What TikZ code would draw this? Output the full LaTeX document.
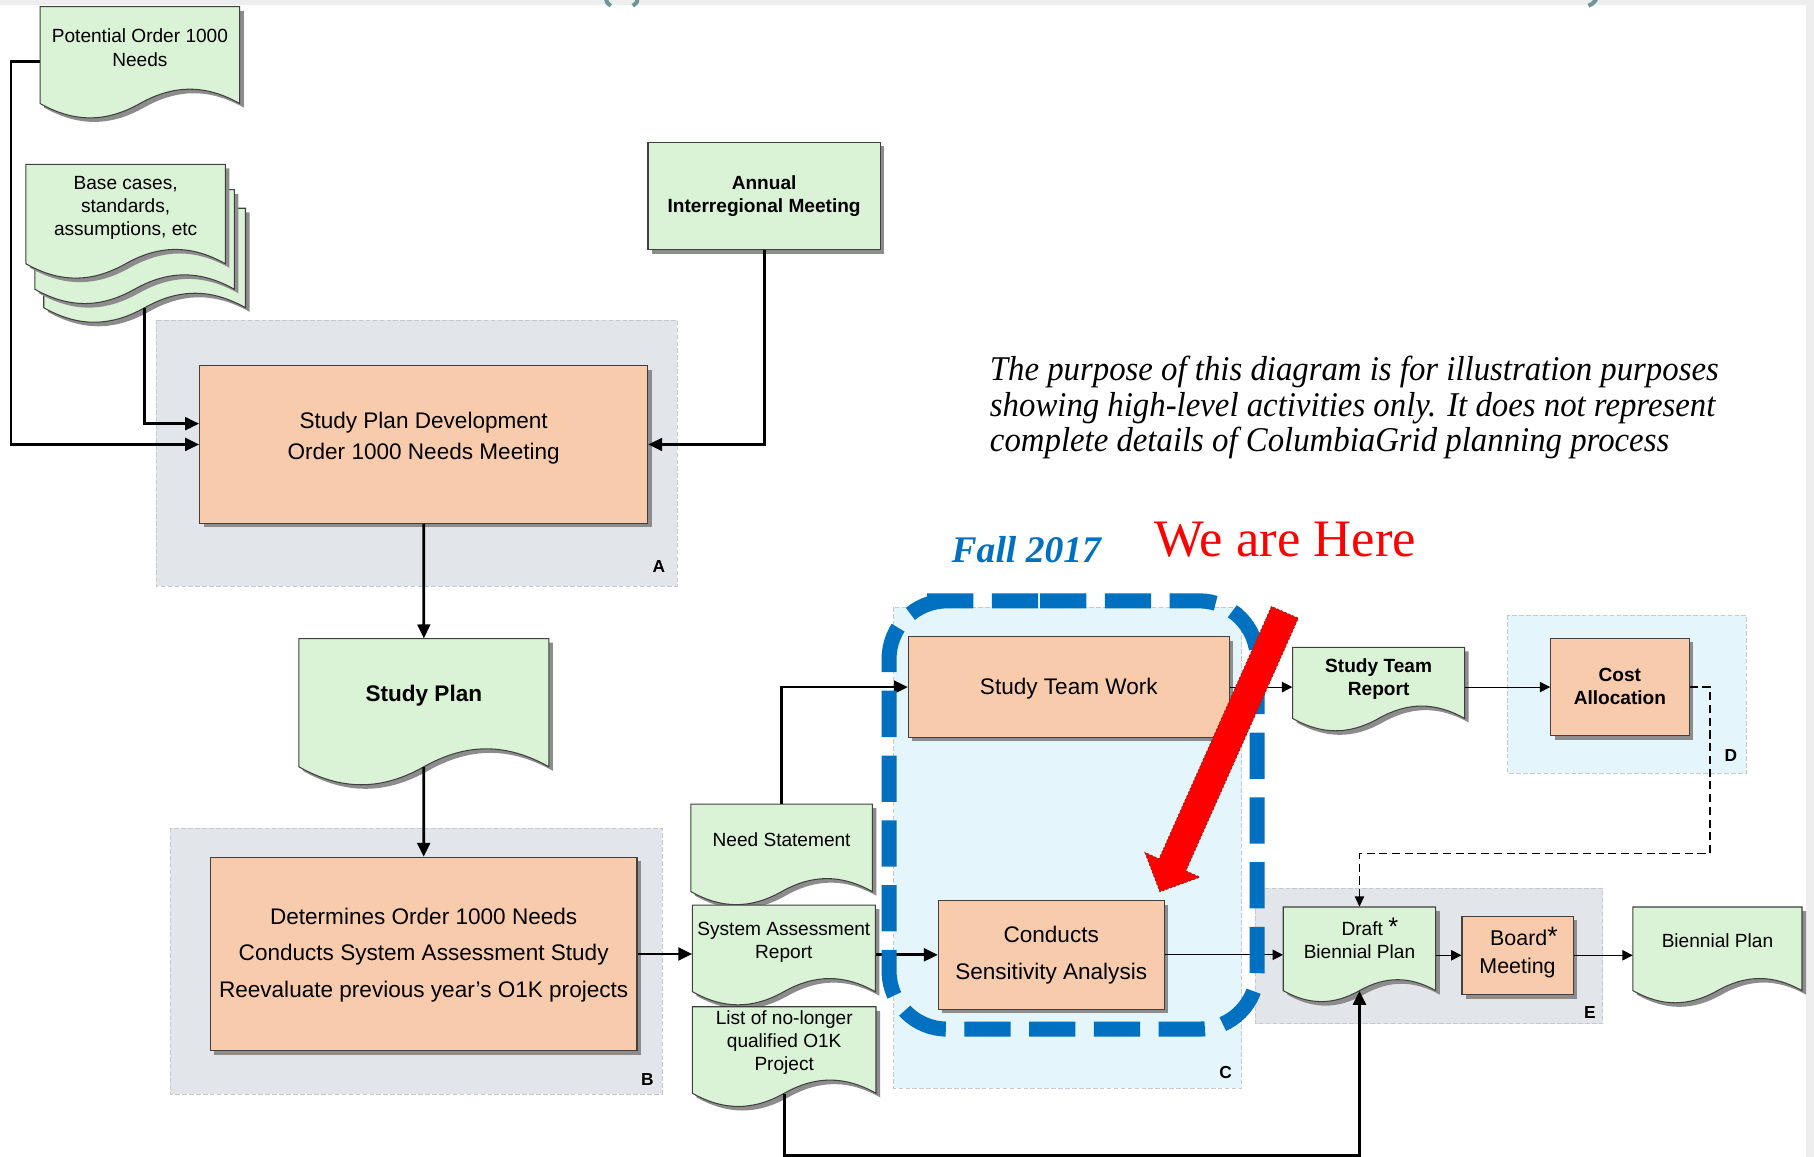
\documentclass[tikz,border=0pt]{standalone}
\usepackage{fontspec}
\setmainfont{Liberation Sans}
\newfontfamily\noteserif{Liberation Serif}[FakeStretch=0.945]
\newfontfamily\headserif{Liberation Serif}
\usetikzlibrary{arrows.meta,calc}

\definecolor{docfill}{RGB}{218,242,213}
\definecolor{procfill}{RGB}{248,203,173}
\definecolor{greyzone}{RGB}{226,229,233}
\definecolor{bluezone}{RGB}{228,246,251}
\definecolor{zoneedge}{RGB}{196,202,208}
\definecolor{edge}{RGB}{64,64,64}
\definecolor{shade}{RGB}{140,140,140}
\definecolor{hiblue}{RGB}{0,112,192}
\definecolor{arrowedge}{RGB}{150,40,30}
\definecolor{band}{RGB}{238,238,238}
\definecolor{titleteal}{RGB}{110,150,150}

% document symbol with a wavy lower edge: name, left, top, right, side bottom
\newcommand\docshape[5]{%
  \pgfmathsetmacro\docW{#4-#2}%
  \pgfmathsetmacro\docA{0.072*\docW*1.33}%
  \path[docbody] (#2,#3) -- (#4,#3) -- (#4,#5)
    .. controls ({#4-0.17*\docW},{#5-\docA}) and ({#4-0.33*\docW},{#5-\docA}) .. ({#2+0.5*\docW},#5)
    .. controls ({#2+0.33*\docW},{#5+\docA}) and ({#2+0.17*\docW},{#5+\docA}) .. (#2,#5) -- cycle;
  \node[docframe, minimum width=\docW, minimum height={#5-#3}] (#1) at ({(#2+#4)/2},{(#3+#5)/2}) {};
}

\begin{document}
\begin{tikzpicture}[x=1pt,y=-1pt,
  shadowed/.style={preaction={fill=shade, draw=none, transform canvas={shift={(3.5pt,-3.5pt)}}}},
  procbox/.style={rectangle, draw=edge, line width=0.9pt, fill=procfill, inner sep=0, shadowed},
  docbody/.style={draw=edge, line width=0.9pt, fill=docfill, shadowed},
  docframe/.style={rectangle, inner sep=0, draw=none},
  zone/.style={draw=zoneedge, line width=0.8pt, dash pattern=on 4pt off 2pt},
  zonelabel/.style={inner sep=0, font=\bfseries\fontsize{15}{18}\selectfont},
  lbl/.style={inner sep=0, align=center, anchor=north, execute at begin node=\strut},
  smalltxt/.style={lbl, font=\fontsize{16.5}{20}\selectfont},
  smallbold/.style={lbl, font=\bfseries\fontsize{16.5}{20}\selectfont},
  bigtxt/.style={lbl, font=\fontsize{19.5}{27}\selectfont},
  thickflow/.style={line width=2.4pt, -{Triangle[length=12pt,width=11pt]}},
  thinflow/.style={line width=1pt, -{Triangle[length=9pt,width=9pt]}},
  dashflow/.style={line width=1.2pt, dash pattern=on 7pt off 4pt, -{Triangle[length=9pt,width=8pt]}}]

\fill[white] (0,0) rectangle (1568,1000);
\useasboundingbox (0,0) rectangle (1568,1000);

% page frame bands and the cut title strokes
\fill[band] (0,0) rectangle (1568,4);
\fill[band] (1561,0) rectangle (1568,1000);
\draw[titleteal, line width=3.5pt] (524,-4) .. controls (524,2) .. (528,5);
\draw[titleteal, line width=3.5pt] (551,-4) .. controls (551,2) .. (547,5);
\draw[titleteal, line width=3.5pt] (1381,-8) .. controls (1381,0) and (1378,3) .. (1373,5);

% zones
\path[zone, fill=greyzone] (134.9,276.6) rectangle (585.5,506.6);
\path[zone, fill=greyzone] (147.2,715.8) rectangle (572.2,945.6);
\path[zone, fill=bluezone] (772.5,525) rectangle (1073.2,940.8);
\path[zone, fill=bluezone] (1303.3,531.6) rectangle (1509.4,668.5);
\path[zone, fill=greyzone] (1085,768) rectangle (1385.2,884.9);
\node[zonelabel] (labA) at (569.5,489.8) {A};
\node[zonelabel] (labB) at (559.6,932.7) {B};
\node[zonelabel] (labC) at (1059.5,927) {C};
\node[zonelabel] (labD) at (1496.2,652.7) {D};
\node[zonelabel] (labE) at (1374.3,875) {E};

% process boxes
\node[procbox, fill=docfill, minimum width=200.8, minimum height=93] (ann) at (660.5,169.5) {};
\node[procbox, minimum width=387.4, minimum height=136.4] (spd) at (366.2,384.2) {};
\node[procbox, minimum width=368.8, minimum height=167.2] (bbox) at (366.2,824.6) {};
\node[procbox, minimum width=277.3, minimum height=87] (stw) at (923.85,593.9) {};
\node[procbox, minimum width=195.1, minimum height=93.7] (cond) at (908.65,825.35) {};
\node[procbox, minimum width=119.6, minimum height=84.2] (cost) at (1400.2,593.9) {};
\node[procbox, minimum width=96.1, minimum height=67.9] (board) at (1311.75,825.75) {};

% documents
\docshape{pot}{34.7}{5.8}{207.2}{89.5}
\docshape{base3}{37.8}{180}{212.2}{266}
\docshape{base2}{30.1}{164}{202.5}{250}
\docshape{base}{22.4}{142}{194.8}{228}
\docshape{sp}{258.3}{552}{474.4}{662.8}
\docshape{need}{597.2}{695}{754}{770.7}
\docshape{sar}{598.5}{782.3}{756.6}{857.2}
\docshape{list}{598.5}{870.2}{757.2}{945}
\docshape{str}{1117.3}{559.6}{1266}{621}
\docshape{draft}{1109.2}{784}{1241}{856.3}
\docshape{bien}{1411.5}{784}{1557.6}{856.3}

% labels
\node[smalltxt, font=\fontsize{16.5}{21}\selectfont] (pot-text) at (120.95,24.5) {Potential Order 1000\\Needs};
\node[smalltxt] (base-text) at (108.6,152.4) {Base cases,\\standards,\\assumptions, etc};
\node[smallbold] (ann-text) at (660.5,151.4) {Annual\\Interregional Meeting};
\node[bigtxt] (spd-text) at (366.2,356) {Study Plan Development\\Order 1000 Needs Meeting};
\node[lbl, font=\bfseries\fontsize{19.5}{24}\selectfont] (sp-text) at (366.35,589.1) {Study Plan};
\node[lbl, font=\fontsize{19.5}{31.7}\selectfont] (bbox-text) at (366.2,784.4) {Determines Order 1000 Needs\\Conducts System Assessment Study\\Reevaluate previous year’s O1K projects};
\node[smalltxt] (need-text) at (675.6,717.9) {Need Statement};
\node[smalltxt] (sar-text) at (677.55,796.8) {System Assessment\\Report};
\node[smalltxt] (list-text) at (677.85,873) {List of no-longer\\qualified O1K\\Project};
\node[lbl, font=\fontsize{19.5}{24}\selectfont] (stw-text) at (923.85,583.3) {Study Team Work};
\node[lbl, font=\fontsize{19.5}{31.7}\selectfont] (cond-text) at (908.65,800.6) {Conducts\\Sensitivity Analysis};
\node[smallbold] (str-text) at (1191.65,568.8) {Study Team\\Report};
\node[smallbold, font=\bfseries\fontsize{16.5}{20.2}\selectfont] (cost-text) at (1400.2,577.4) {Cost\\Allocation};
\node[smalltxt] (draft-text) at (1175.1,793.6) {\hspace*{18pt}Draft {\fontsize{22}{20}\selectfont *}\\Biennial Plan};
\node[lbl, font=\fontsize{18.5}{24}\selectfont] (board-text) at (1311.75,801.4) {\hspace*{11pt}Board{\fontsize{23}{24}\selectfont *}\\Meeting};
\node[smalltxt] (bien-text) at (1484.55,804.6) {Biennial Plan};

% flows
\draw[thickflow] ([yshift=-5.6pt]pot.west) -- ++(-25,0) |- (spd.west);
\draw[thickflow] (base3.south) |- ([yshift=18pt]spd.west);
\draw[thickflow] (ann.south) |- (spd.east);
\draw[thickflow] (spd.south) -- (sp.north);
\draw[thickflow] (sp.south) -- (bbox.north);
\draw[thickflow] (bbox.east) -- (bbox.east -| sar.west);
\draw[thickflow] (need.north) |- (stw.west);
\draw[thickflow] (sar.east |- cond.west) -- (cond.west);
\draw[thickflow] (list.south) -- ++(0,53.4) -| (draft.south);
\draw[thinflow] (stw.east) -- (stw.east -| str.west);
\draw[thinflow] (str.east |- cost.west) -- (cost.west);
\draw[dashflow] (cost.east) -- ++(17.5,0) -- ++(0,143.8) -| (draft.north);
\draw[thinflow] (cond.east) -- (cond.east -| draft.west);
\draw[thinflow] (draft.east |- board.west) -- (board.west);
\draw[thinflow] (board.east) -- (board.east -| bien.west);

% current-stage outline
\draw[hiblue, line width=13pt, dash pattern=on 40pt off 16pt, rounded corners=50pt]
  (849,519.4) -- (1086.7,519.4) -- (1086.7,889.5) -- (768.5,889.5) -- (768.5,519.4) -- cycle;

% pointer
\filldraw[fill=red, draw=arrowedge, line width=0.9pt, dash pattern=on 2pt off 1.5pt]
  (1099.1,524.3) -- (1001.9,742.5) -- (989.8,737.0) -- (1002.6,770.7)
  -- (1037.0,758.2) -- (1024.9,752.8) -- (1122.1,534.4) -- cycle;

% headings and note
\node[anchor=base west, inner sep=0, text=hiblue, font=\headserif\bfseries\itshape\fontsize{32.5}{36}\selectfont] (season) at (822.4,486.4) {Fall 2017};
\node[anchor=base west, inner sep=0, text=red, font=\headserif\fontsize{45.5}{50}\selectfont] (here) at (997.7,481.2) {We are Here};
\node[inner sep=0, anchor=north west, align=left, execute at begin node=\strut,
      font=\noteserif\itshape\fontsize{30}{31}\selectfont] (note) at (855.5,307.3)
  {The purpose of this diagram is for illustration purposes\\showing high-level activities only. It does not represent\\complete details of ColumbiaGrid planning process};
\end{tikzpicture}
\end{document}
